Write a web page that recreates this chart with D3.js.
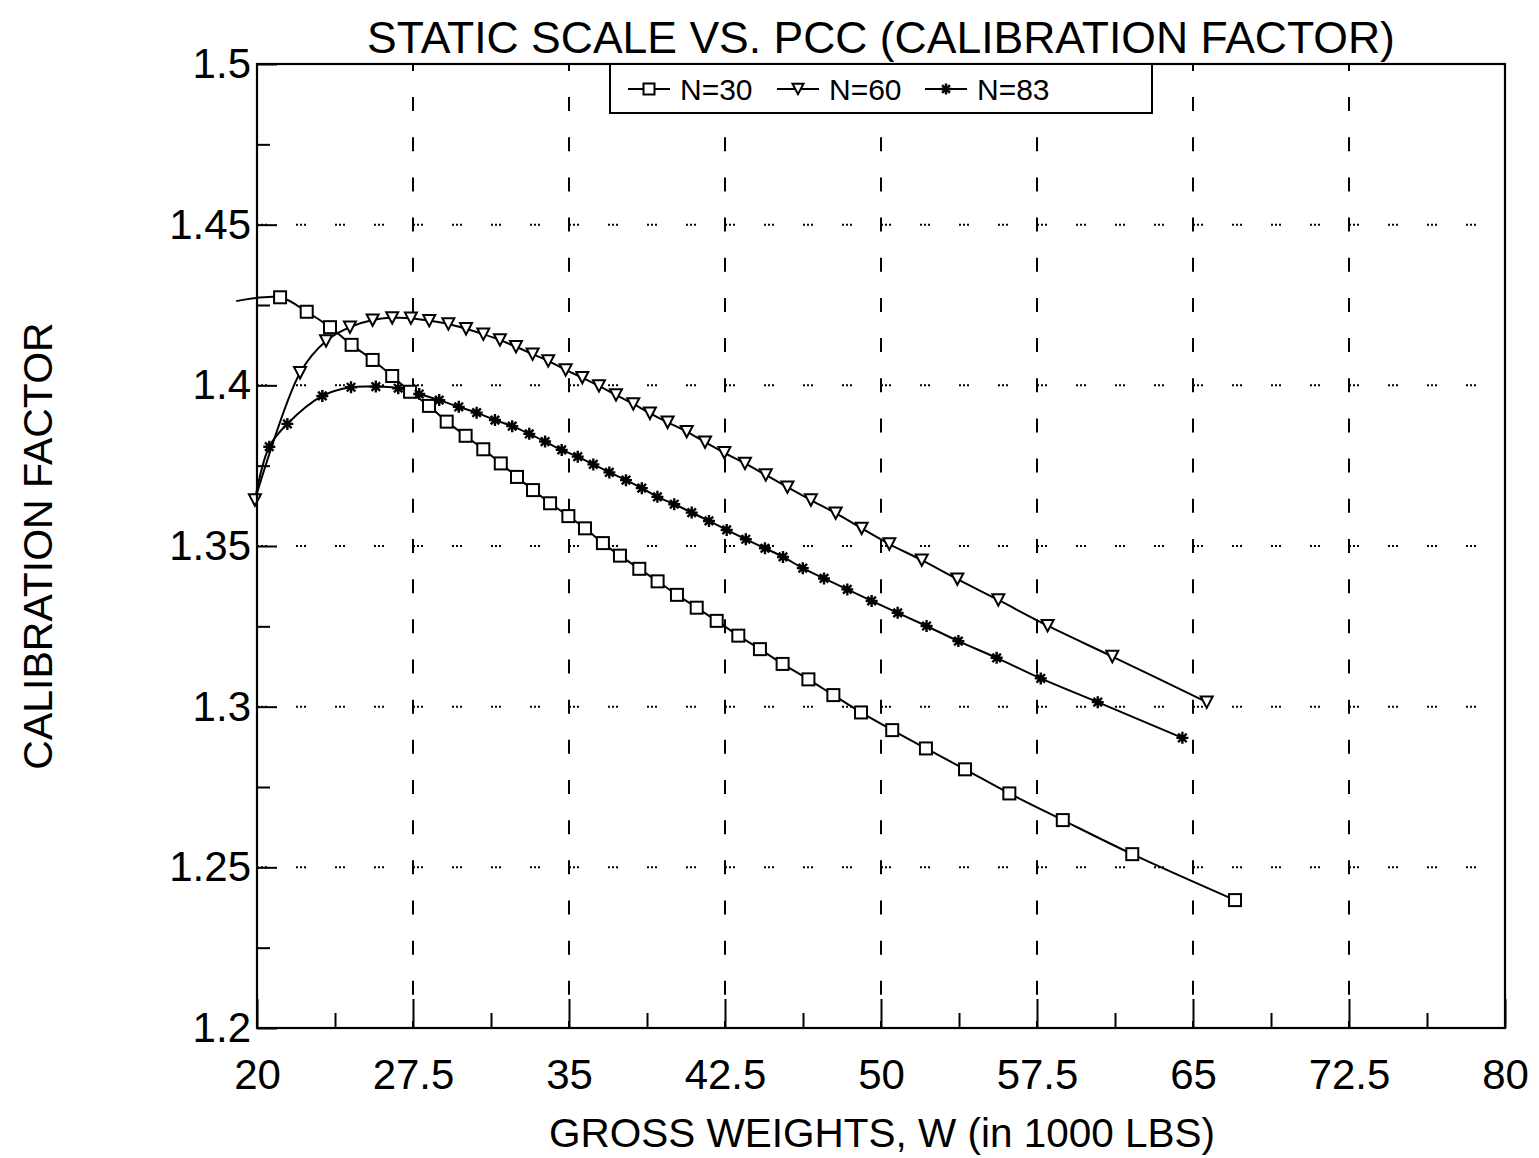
<!DOCTYPE html>
<html lang="en">
<head>
  <meta charset="UTF-8">
  <title>Static scale vs. PCC</title>
  <style>
    body { margin: 0; background: #fff; }
    svg { font-family: "Liberation Sans", Arial, Helvetica, sans-serif; }
    .frame { fill: none; stroke: #000; stroke-width: 2.2px; }
    .vgrid { stroke: #000; stroke-width: 2px; stroke-dasharray: 14 26.17; }
    .hgrid { stroke: #000; stroke-width: 2px; stroke-dasharray: 2 2 2 2 2 29; }
    .series { fill: none; stroke: #000; stroke-width: 2px; }
    .mark { fill: #fff; stroke: #000; stroke-width: 2px; }
    .star { stroke: #000; stroke-width: 2.4px; }
  </style>
</head>
<body>
  <script src="https://d3js.org/d3.v7.min.js"></script>
  <script>
    // x = gross weight (1000 lbs), y = calibration factor
    const n30 = [
      [19.0, 1.4262], [21.11, 1.4274], [22.39, 1.4229], [23.51, 1.4181], [24.55, 1.4126],
      [25.56, 1.4079], [26.50, 1.4029], [27.36, 1.3980], [28.27, 1.3936], [29.12, 1.3887],
      [30.03, 1.3843], [30.88, 1.3801], [31.72, 1.3757], [32.50, 1.3715], [33.27, 1.3674],
      [34.09, 1.3633], [34.97, 1.3593], [35.77, 1.3555], [36.63, 1.3509], [37.45, 1.3470],
      [38.38, 1.3429], [39.26, 1.3390], [40.19, 1.3348], [41.14, 1.3308], [42.10, 1.3267],
      [43.14, 1.3221], [44.18, 1.3179], [45.27, 1.3133], [46.51, 1.3085], [47.71, 1.3036],
      [49.04, 1.2982], [50.54, 1.2927], [52.16, 1.2870], [54.04, 1.2805], [56.17, 1.2730],
      [58.74, 1.2647], [62.08, 1.2541], [67.02, 1.2398]
    ];
    const n60 = [
      [19.90, 1.3643], [22.07, 1.4039], [23.32, 1.4138], [24.47, 1.4181], [25.56, 1.4203],
      [26.50, 1.4210], [27.40, 1.4209], [28.28, 1.4201], [29.20, 1.4191], [30.05, 1.4176],
      [30.88, 1.4159], [31.68, 1.4141], [32.45, 1.4120], [33.25, 1.4097], [34.00, 1.4076],
      [34.84, 1.4048], [35.64, 1.4024], [36.44, 1.3998], [37.26, 1.3970], [38.09, 1.3942],
      [38.89, 1.3913], [39.74, 1.3885], [40.66, 1.3856], [41.54, 1.3823], [42.47, 1.3790],
      [43.46, 1.3757], [44.46, 1.3721], [45.50, 1.3683], [46.63, 1.3643], [47.82, 1.3602],
      [49.07, 1.3555], [50.40, 1.3506], [51.96, 1.3456], [53.67, 1.3397], [55.64, 1.3332],
      [58.01, 1.3252], [61.12, 1.3156], [65.66, 1.3014]
    ];
    const n83 = [
      [19.90, 1.3643], [20.59, 1.3809], [21.46, 1.3880], [23.14, 1.3967], [24.52, 1.3994],
      [25.71, 1.3996], [26.79, 1.3991], [27.80, 1.3973], [28.76, 1.3954], [29.70, 1.3933],
      [30.56, 1.3915], [31.44, 1.3892], [32.27, 1.3873], [33.09, 1.3849], [33.85, 1.3825],
      [34.65, 1.3799], [35.42, 1.3778], [36.17, 1.3754], [36.94, 1.3729], [37.74, 1.3705],
      [38.50, 1.3680], [39.25, 1.3653], [40.06, 1.3630], [40.90, 1.3604], [41.73, 1.3578],
      [42.58, 1.3550], [43.50, 1.3521], [44.42, 1.3493], [45.29, 1.3466], [46.24, 1.3431],
      [47.26, 1.3399], [48.38, 1.3365], [49.55, 1.3329], [50.80, 1.3292], [52.19, 1.3251],
      [53.72, 1.3204], [55.56, 1.3152], [57.68, 1.3088], [60.42, 1.3014], [64.49, 1.2903]
    ];

    const xTicks = [20, 27.5, 35, 42.5, 50, 57.5, 65, 72.5, 80];
    const xMinor = [23.75, 31.25, 38.75, 46.25, 53.75, 61.25, 68.75, 76.25];
    const yTicks = [1.2, 1.25, 1.3, 1.35, 1.4, 1.45, 1.5];
    const yMinor = [1.225, 1.275, 1.325, 1.375, 1.425, 1.475];

    const series = [
      {name: "N=30", data: n30, shape: "square", skip: 1},
      {name: "N=60", data: n60, shape: "triangle", skip: 0},
      {name: "N=83", data: n83, shape: "star", skip: 1}
    ];

    const width = 1539, height = 1158;
    const m = {left: 257, right: 1505, top: 64, bottom: 1028};

    const x = d3.scaleLinear().domain([20, 80]).range([m.left, m.right]);
    const y = d3.scaleLinear().domain([1.2, 1.5]).range([m.bottom, m.top]);

    const svg = d3.select("body").append("svg").attr("width", width).attr("height", height);

    // grid
    svg.append("g").selectAll("line").data(xTicks.slice(1, -1)).join("line")
      .attr("class", "vgrid")
      .attr("x1", d => x(d)).attr("x2", d => x(d))
      .attr("y1", m.bottom).attr("y2", m.top)
      .style("stroke-dashoffset", 7);
    svg.append("g").selectAll("line").data(yTicks.slice(1, -1)).join("line")
      .attr("class", "hgrid")
      .attr("x1", m.left).attr("x2", m.right)
      .attr("y1", d => y(d)).attr("y2", d => y(d));

    // axes
    const fontSize = "42px";
    const xAxis = svg.append("g").attr("transform", `translate(0,${m.bottom})`)
      .call(d3.axisBottom(x).tickValues(xTicks).tickSize(-29).tickPadding(31)
        .tickFormat(d => d3.format("")(d)));
    xAxis.select(".domain").remove();
    xAxis.selectAll("line").attr("stroke-width", 2);
    xAxis.selectAll("text").attr("font-size", fontSize).attr("font-family", "Liberation Sans, Arial, sans-serif");
    svg.append("g").attr("transform", `translate(0,${m.bottom})`)
      .call(d3.axisBottom(x).tickValues(xMinor).tickSize(-15).tickFormat(""))
      .call(g => g.select(".domain").remove())
      .selectAll("line").attr("stroke-width", 2);

    const yAxis = svg.append("g").attr("transform", `translate(${m.left},0)`)
      .call(d3.axisLeft(y).tickValues(yTicks).tickSize(-20).tickPadding(6)
        .tickFormat(d => d3.format("")(+d.toFixed(2))));
    yAxis.select(".domain").remove();
    yAxis.selectAll("line").attr("stroke-width", 2);
    yAxis.selectAll("text").attr("font-size", fontSize).attr("font-family", "Liberation Sans, Arial, sans-serif");
    svg.append("g").attr("transform", `translate(${m.left},0)`)
      .call(d3.axisLeft(y).tickValues(yMinor).tickSize(-13).tickFormat(""))
      .call(g => g.select(".domain").remove())
      .selectAll("line").attr("stroke-width", 2);

    // series
    const line = d3.line().x(d => x(d[0])).y(d => y(d[1])).curve(d3.curveCatmullRom);

    function drawMark(sel, shape, s) {
      if (shape === "square") {
        sel.append("rect").attr("class", "mark")
          .attr("x", -s / 2).attr("y", -s / 2).attr("width", s).attr("height", s);
      } else if (shape === "triangle") {
        const h = s * 0.95;
        sel.append("path").attr("class", "mark")
          .attr("d", `M${-s / 2},${-h / 2}L${s / 2},${-h / 2}L0,${h / 2}Z`);
      } else {
        const r = s / 2;
        const d = d3.range(4).map(i => {
          const a = i * Math.PI / 4;
          return `M${-r * Math.cos(a)},${-r * Math.sin(a)}L${r * Math.cos(a)},${r * Math.sin(a)}`;
        }).join("");
        sel.append("path").attr("class", "star").attr("d", d);
      }
    }

    const plot = svg.append("g");
    series.forEach(sr => {
      plot.append("path").datum(sr.data).attr("class", "series").attr("d", line);
    });
    series.forEach(sr => {
      plot.append("g").selectAll("g").data(sr.data.slice(sr.skip)).join("g")
        .attr("transform", d => `translate(${x(d[0])},${y(d[1])})`)
        .each(function() { drawMark(d3.select(this), sr.shape, 12); });
    });

    // frame
    svg.append("rect").attr("class", "frame")
      .attr("x", m.left).attr("y", m.top)
      .attr("width", m.right - m.left).attr("height", m.bottom - m.top);

    // legend
    const legend = svg.append("g");
    legend.append("rect")
      .attr("x", 610).attr("y", m.top).attr("width", 542).attr("height", 49)
      .attr("fill", "#fff").attr("stroke", "#000").attr("stroke-width", 2);
    const legendX = [628, 777, 925];
    series.forEach((sr, i) => {
      const g = legend.append("g").attr("transform", `translate(${legendX[i]},89)`);
      g.append("line").attr("x1", 0).attr("x2", 42).attr("stroke", "#000").attr("stroke-width", 2);
      drawMark(g.append("g").attr("transform", "translate(21,0)"), sr.shape, 11);
      g.append("text").attr("x", 52).attr("y", 11).attr("font-size", "30px").text(sr.name);
    });

    // titles
    svg.append("text").attr("x", 881).attr("y", 53).attr("text-anchor", "middle")
      .attr("font-size", "44.5px").text("STATIC SCALE VS. PCC (CALIBRATION FACTOR)");
    svg.append("text").attr("x", 882).attr("y", 1147).attr("text-anchor", "middle")
      .attr("font-size", "40.5px").text("GROSS WEIGHTS, W (in 1000 LBS)");
    svg.append("text").attr("transform", "translate(52,546) rotate(-90)").attr("text-anchor", "middle")
      .attr("font-size", "41px").text("CALIBRATION FACTOR");
  </script>
</body>
</html>
